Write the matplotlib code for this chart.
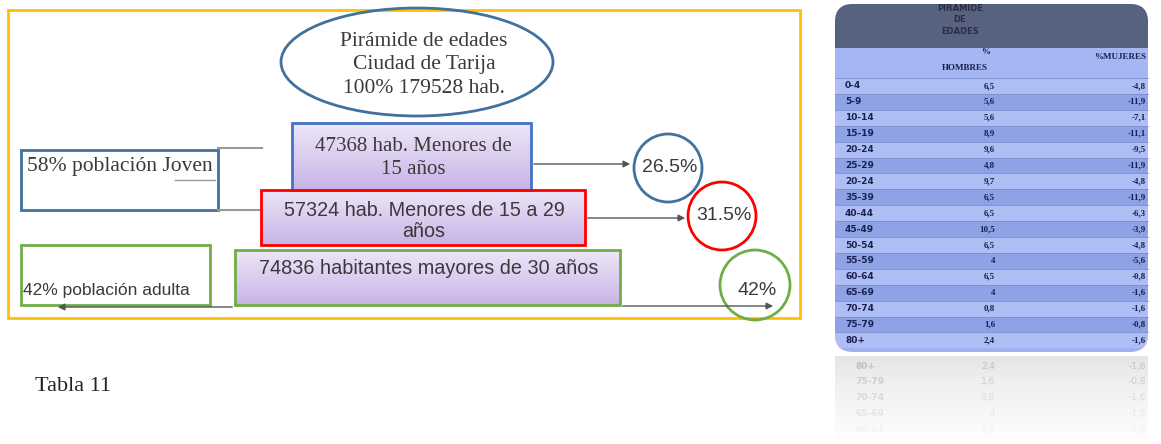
import numpy as np
import matplotlib.pyplot as plt
from matplotlib.patches import Rectangle, Ellipse, Circle, FancyBboxPatch
from matplotlib.colors import LinearSegmentedColormap

# tabla de la derecha
edades = ['0-4', '5-9', '10-14', '15-19', '20-24', '25-29', '20-24', '35-39', '40-44',
          '45-49', '50-54', '55-59', '60-64', '65-69', '70-74', '75-79', '80+']
hombres = [6.5, 5.6, 5.6, 8.9, 9.6, 4.8, 9.7, 6.5, 6.5, 10.5, 6.5, 4, 6.5, 4, 0.8, 1.6, 2.4]
mujeres = [-4.8, -11.9, -7.1, -11.1, -9.5, -11.9, -4.8, -11.9, -6.3, -3.9, -4.8, -5.6,
           -0.8, -1.6, -1.6, -0.8, -1.6]

# diagrama
grupos = ['47368 hab. Menores de\n15 años', '57324 hab. Menores de 15 a 29\naños',
          '74836 habitantes mayores de 30 años']
porcentajes = ['26.5%', '31.5%', '42%']
titulo = 'Pirámide de edades\nCiudad de Tarija\n100% 179528 hab.'

W, H = 1161, 444
fig = plt.figure(figsize=(W / 100, H / 100), dpi=100)
ax = fig.add_axes([0, 0, 1, 1])
ax.set_xlim(0, W)
ax.set_ylim(H, 0)
ax.axis('off')

serif = 'Liberation Serif'
sans = 'Liberation Sans'
tc = '#3a3a3a'

# marco amarillo
ax.add_patch(Rectangle((8, 10), 792, 308, fill=False, ec='#ffc000', lw=2))

# elipse titulo
ax.add_patch(Ellipse((417, 62), 272, 108, fill=False, ec='#41719c', lw=2))
ax.text(424, 65, titulo, ha='center', va='center', fontsize=15.5, family=serif,
        color=tc, linespacing=1.3)

grad = np.linspace(0, 1, 50).reshape(-1, 1)
cm = LinearSegmentedColormap.from_list('lav', ['#eee6f8', '#c8b4e6'])


def caja(x0, y0, w, h, ec):
    ax.imshow(grad, cmap=cm, extent=(x0, x0 + w, y0 + h, y0), aspect='auto', zorder=1)
    ax.add_patch(Rectangle((x0, y0), w, h, fill=False, ec=ec, lw=2, zorder=3))


# cajas de la piramide
caja(292, 123, 239, 67, '#4472c4')
ax.text(413, 158, grupos[0], ha='center', va='center', fontsize=15, family=serif,
        color=tc, zorder=4, linespacing=1.35)
caja(261, 190, 324, 55, '#ff0000')
ax.text(424, 221, grupos[1], ha='center', va='center', fontsize=14.2, family=sans,
        color=tc, zorder=4, linespacing=1.1)
caja(235, 250, 385, 55, '#70ad47')
ax.text(429, 268, grupos[2], ha='center', va='center', fontsize=14.3, family=sans,
        color=tc, zorder=4)

# flechas
arr = dict(arrowstyle='-|>', color='#555555', lw=1, mutation_scale=10)
ax.annotate('', xy=(633, 164), xytext=(531, 164), arrowprops=arr)
ax.annotate('', xy=(688, 218), xytext=(585, 218), arrowprops=arr)
ax.annotate('', xy=(776, 306), xytext=(620, 306), arrowprops=arr)
ax.annotate('', xy=(55, 307), xytext=(235, 307), arrowprops=arr)

# circulos con porcentaje
for (cx, cy, r, ec), p in zip([(668, 168, 34, '#41719c'), (722, 216, 34, '#ff0000'),
                               (755, 285, 35, '#70ad47')], porcentajes):
    ax.add_patch(Circle((cx, cy), r, fill=False, ec=ec, lw=2))
    ax.text(cx + 2, cy + (5 if p == '42%' else -1), p, ha='center', va='center',
            fontsize=14, family=sans, color=tc)

# cajas izquierdas
ax.add_patch(Rectangle((21, 150), 197, 60, fill=False, ec='#41719c', lw=2))
ax.text(27, 166, '58% población Joven', ha='left', va='center', fontsize=15.5,
        family=serif, color=tc)
ax.plot([218, 262], [148, 148], color='#999999', lw=1.5)
ax.plot([218, 262], [210, 210], color='#999999', lw=1.5)
ax.plot([175, 215], [180, 180], color='#999999', lw=1)
ax.add_patch(Rectangle((21, 245), 189, 60, fill=False, ec='#70ad47', lw=2))
ax.text(23, 290, '42% población adulta', ha='left', va='center', fontsize=12.5,
        family=sans, color=tc)

ax.text(35, 386, 'Tabla 11', ha='left', va='center', fontsize=16, family=serif, color='#222222')

# tabla
tab = FancyBboxPatch((835, 4), 313, 348, boxstyle='round,pad=0,rounding_size=18',
                     fc='#9fb1ef', ec='none')
ax.add_patch(tab)
hdr = Rectangle((835, 4), 313, 44, fc='#56627f', ec='none')
ax.add_patch(hdr)
hdr.set_clip_path(tab)
ax.add_patch(Rectangle((835, 48), 313, 30, fc='#a5b6f2', ec='none'))
y0, dy = 86, 15.9
for i in range(len(edades)):
    y = y0 + i * dy
    band = Rectangle((835, y - dy / 2), 313, dy,
                     fc='#8ea2e6' if i % 2 else '#aebef4', ec='none')
    ax.add_patch(band)
    band.set_clip_path(tab)
    ax.plot([835, 1148], [y - dy / 2, y - dy / 2], color='#7d8fd0', lw=0.6)
    ax.text(845, y, edades[i], ha='left', va='center', fontsize=6.5, weight='bold',
            color='#1a2050')
    ax.text(995, y, f'{hombres[i]:g}'.replace('.', ','), ha='right', va='center',
            fontsize=6.5, family=serif, weight='bold', color='#1a2050')
    ax.text(1146, y, f'{mujeres[i]:g}'.replace('.', ','), ha='right', va='center',
            fontsize=6.5, family=serif, weight='bold', color='#1a2050')
ax.text(960, 20, 'PIRAMIDE\nDE\nEDADES', ha='center', va='center', fontsize=6,
        weight='bold', color='#2a2f45', linespacing=1.3)
ax.text(990, 52, '%', ha='right', va='center', fontsize=6.5, family=serif,
        weight='bold', color='#1a2050')
ax.text(965, 68, 'HOMBRES', ha='center', va='center', fontsize=6.5, family=serif,
        weight='bold', color='#1a2050')
ax.text(1146, 57, '%MUJERES', ha='right', va='center', fontsize=6.5, family=serif,
        weight='bold', color='#1a2050')

# reflejo desvanecido
refl = np.linspace(0.55, 0, 40).reshape(-1, 1)
ax.imshow(refl, cmap='Greys', vmin=0, vmax=3, extent=(835, 1148, 444, 356),
          aspect='auto', zorder=0)
for i, j in enumerate(range(len(edades) - 1, len(edades) - 6, -1)):
    a = 0.2 - i * 0.04
    y = 366 + i * dy
    ax.text(855, y, edades[j], ha='left', va='center', fontsize=6.5, weight='bold',
            color='#1a2050', alpha=a)
    ax.text(995, y, f'{hombres[j]:g}'.replace('.', ','), ha='right', va='center',
            fontsize=6.5, color='#1a2050', alpha=a)
    ax.text(1146, y, f'{mujeres[j]:g}'.replace('.', ','), ha='right', va='center',
            fontsize=6.5, color='#1a2050', alpha=a)

fig.savefig('out.png', dpi=100)
